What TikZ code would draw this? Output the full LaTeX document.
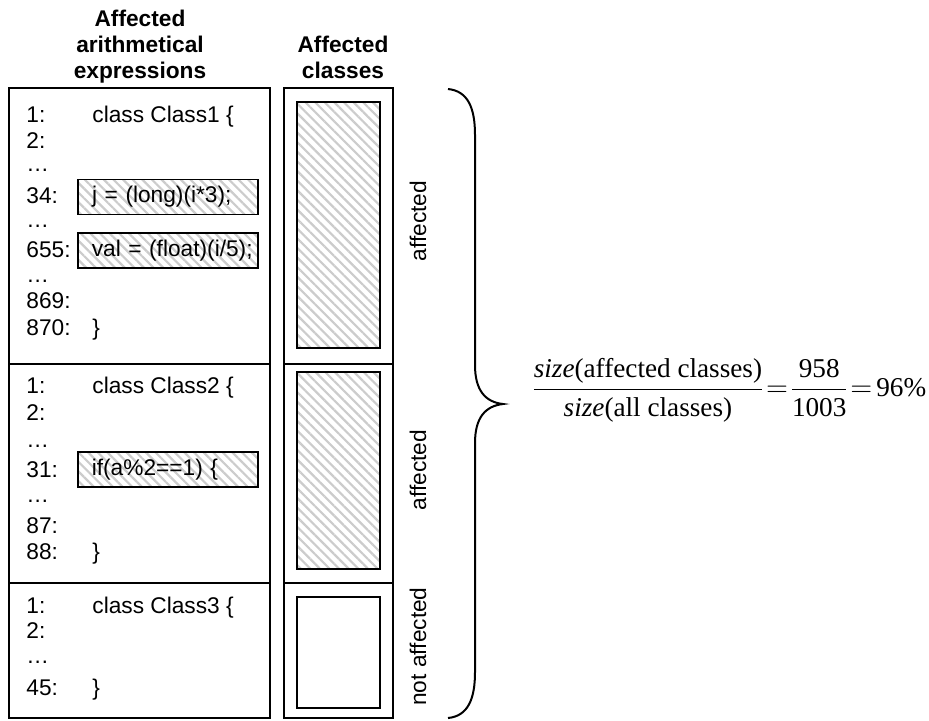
\documentclass[tikz,border=0pt]{standalone}
\usepackage{fontspec}
\setmainfont{Liberation Sans}
\newfontfamily\eqfont{Liberation Serif}
\usetikzlibrary{patterns.meta}
\newcommand{\codefont}{\fontsize{11.35}{13}\selectfont}
\newcommand{\eqtxt}[1]{\hbox{\eqfont #1}}

\tikzset{
  colbox/.style={line width=1pt},
  hatched/.style={line width=0.8pt, pattern={Lines[angle=-45,distance=3.4pt,line width=1.1pt]}, pattern color=black!20},
  plainbox/.style={line width=0.8pt},
  head/.style={font=\codefont\bfseries, align=center, anchor=base, inner sep=0pt},
  lnum/.style={font=\codefont, anchor=base west, inner sep=0pt},
  code/.style={font=\codefont, anchor=base west, inner sep=0pt},
  hlbox/.style={draw, hatched, anchor=west, font=\codefont, minimum height=17.5pt, text width=90pt, inner xsep=0pt, inner ysep=0pt, align=left, execute at begin node={\hspace*{7pt}}},
  tag/.style={font=\codefont, rotate=90, inner sep=0pt}
}

\begin{document}
\begin{tikzpicture}[x=0.5pt, y=-0.5pt]
  \useasboundingbox (0,0) rectangle (929,720);

  % column headings
  \node[head] (hexpr) at (140,78) {Affected\\arithmetical\\expressions};
  \node[head] (hcls) at (343,78) {Affected\\classes};

  % left column: source of the classes
  \draw[colbox] (9,88) rectangle (270,364);
  \draw[colbox] (9,364) rectangle (270,583);
  \draw[colbox] (9,583) rectangle (270,718);

  \foreach \yy/\txt [count=\k] in {122/1:, 148/2:, 171/…, 203/34:, 227/…, 257/655:, 282/…, 308/869:, 335/870:}
    \node[lnum] (a\k) at (26,\yy) {\txt};
  \foreach \yy/\txt [count=\k] in {393/1:, 420/2:, 447/…, 477/31:, 502/…, 533/87:, 559/88:}
    \node[lnum] (b\k) at (26,\yy) {\txt};
  \foreach \yy/\txt [count=\k] in {613/1:, 638/2:, 663/…, 695/45:}
    \node[lnum] (c\k) at (26,\yy) {\txt};

  \node[code] (open1) at (92,122) {class Class1 \{};
  \node[code] (close1) at (92,335) {\}};
  \node[code] (open2) at (92,393) {class Class2 \{};
  \node[code] (close2) at (92,559) {\}};
  \node[code] (open3) at (92,613) {class Class3 \{};
  \node[code] (close3) at (92,695) {\}};

  % affected expressions
  \node[hlbox] (expr1) at (77,197) {j = (long)(i*3);};
  \node[hlbox] (expr2) at (77,250.5) {val = (float)(i/5);};
  \node[hlbox] (expr3) at (77,469.5) {if(a\%2==1) \{};

  % right column: classes
  \draw[colbox] (284,88) rectangle (393,364);
  \draw[colbox] (284,364) rectangle (393,583);
  \draw[colbox] (284,583) rectangle (393,718);
  \draw[hatched] (297,102) rectangle (380,348);
  \draw[hatched] (297,372) rectangle (380,569);
  \draw[plainbox] (297,597) rectangle (380,708);

  \node[tag] (t1) at (418,221) {affected};
  \node[tag] (t2) at (418,470) {affected};
  \node[tag] (t3) at (418,646.5) {not affected};

  % brace and ratio
  \draw[line width=1pt] (448,89) .. controls (468,91) and (475,108) .. (475,135)
    -- (475,365) .. controls (475,390) and (485,402) .. (503,404)
    .. controls (485,406) and (475,418) .. (475,443)
    -- (475,672) .. controls (475,699) and (468,716) .. (448,718);

  \node (ratio) at (730,390) {\fontsize{13.6}{16}\selectfont
    \nulldelimiterspace=0pt \thickmuskip=2.5mu
    $\displaystyle\frac{\eqtxt{\itshape size\/\upshape(affected classes)}}{\eqtxt{\itshape size\/\upshape(all classes)}}
    =\frac{\eqtxt{958}}{\eqtxt{1003}}=\eqtxt{96\%}$};
\end{tikzpicture}
\end{document}
